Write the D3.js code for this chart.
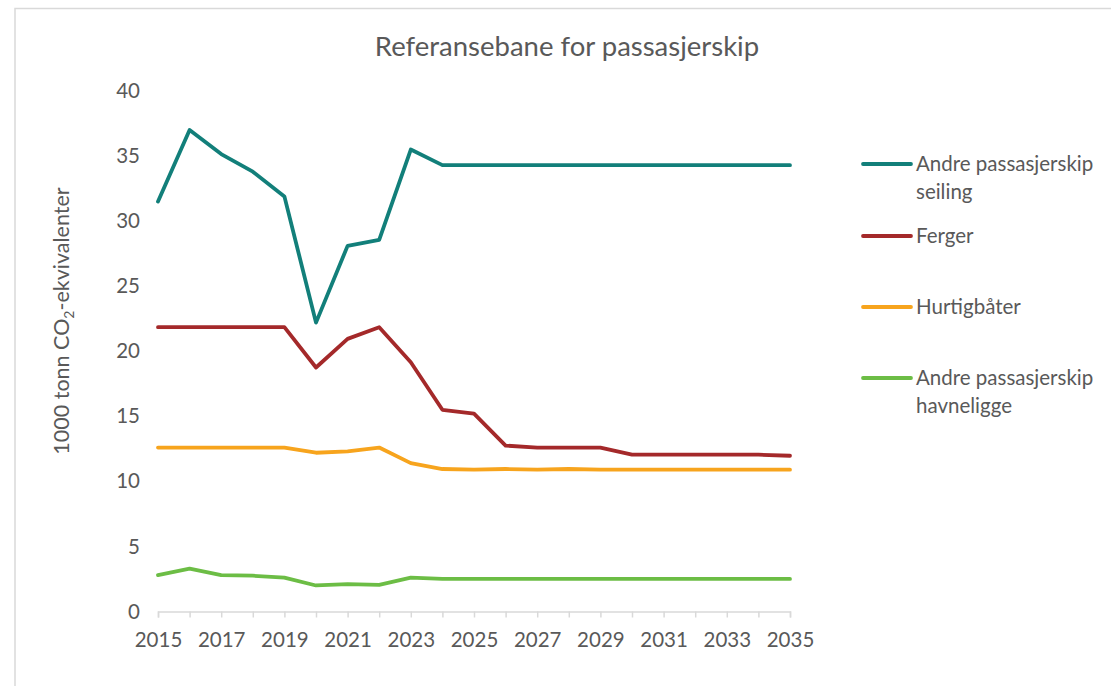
<!DOCTYPE html>
<html>
<head>
<meta charset="utf-8">
<script src="https://cdn.jsdelivr.net/npm/d3@7"></script>
<style>
  html, body { margin: 0; padding: 0; background: #fff; }
  svg { display: block; font-family: Lato, "Open Sans", sans-serif; }
</style>
</head>
<body>
<svg id="chart" width="1111" height="686"></svg>
<script>
// Years on the x axis
const years = d3.range(2015, 2036);
// Tick labels shown on the axes
const xTickLabels = [2015, 2017, 2019, 2021, 2023, 2025, 2027, 2029, 2031, 2033, 2035];
const yTickLabels = [0, 5, 10, 15, 20, 25, 30, 35, 40];

// Emissions, 1000 tonn CO2-ekvivalenter
const andreSeiling = [31.5, 37.0, 35.15, 33.8, 31.9, 22.2, 28.1, 28.55, 35.5, 34.3, 34.3, 34.3, 34.3, 34.3, 34.3, 34.3, 34.3, 34.3, 34.3, 34.3, 34.3];
const ferger = [21.85, 21.85, 21.85, 21.85, 21.85, 18.75, 20.95, 21.85, 19.15, 15.5, 15.2, 12.75, 12.6, 12.6, 12.6, 12.05, 12.05, 12.05, 12.05, 12.05, 11.97];
const hurtigbater = [12.6, 12.6, 12.6, 12.6, 12.6, 12.2, 12.3, 12.6, 11.4, 10.95, 10.9, 10.95, 10.9, 10.95, 10.9, 10.9, 10.9, 10.9, 10.9, 10.9, 10.9];
const andreHavneligge = [2.8, 3.3, 2.8, 2.75, 2.6, 2.0, 2.1, 2.05, 2.6, 2.5, 2.5, 2.5, 2.5, 2.5, 2.5, 2.5, 2.5, 2.5, 2.5, 2.5, 2.5];

const seriesNames = [["Andre passasjerskip", "seiling"], ["Ferger"], ["Hurtigbåter"], ["Andre passasjerskip", "havneligge"]];
const seriesColors = ["#127f7a", "#a4292a", "#f7a41d", "#6cbd45"];
const seriesValues = [andreSeiling, ferger, hurtigbater, andreHavneligge];

const series = seriesValues.map((vals, i) => ({
  name: seriesNames[i],
  color: seriesColors[i],
  points: years.map((y, j) => ({ year: y, value: vals[j] }))
}));

const svg = d3.select("#chart");

// Outer frame (top and left edges)
svg.append("path")
  .attr("d", "M15,686 V8.5 H1111")
  .attr("fill", "none")
  .attr("stroke", "#d9d9d9")
  .attr("stroke-width", 1.5);

const x = d3.scaleLinear().domain([2015, 2035]).range([158, 790]);
const y = d3.scaleLinear().domain([0, 40]).range([611.5, 91]);

// Title
svg.append("text")
  .attr("x", 567).attr("y", 56)
  .attr("text-anchor", "middle")
  .attr("font-size", 27.5)
  .attr("fill", "#595959")
  .text("Referansebane for passasjerskip");

// X axis
const xAxis = d3.axisBottom(x)
  .tickValues(years)
  .tickSize(6)
  .tickFormat(d => xTickLabels.includes(d) ? String(d) : "");
const gx = svg.append("g").attr("transform", `translate(0,${y(0)})`).call(xAxis);
gx.select(".domain").attr("stroke", "#d9d9d9").attr("stroke-width", 1.5);
gx.selectAll(".tick line").attr("stroke", "#d9d9d9").attr("stroke-width", 1.5);
gx.selectAll(".tick text")
  .attr("fill", "#595959")
  .attr("font-size", 20.5)
  .attr("font-family", "Lato, sans-serif")
  .attr("y", 21)
  .attr("dy", "0.71em");

// Y axis (labels only)
const yAxis = d3.axisLeft(y).tickValues(yTickLabels).tickSize(0).tickFormat(d3.format("d"));
const gy = svg.append("g").attr("transform", "translate(140,0)").call(yAxis);
gy.select(".domain").remove();
gy.selectAll(".tick text")
  .attr("fill", "#595959")
  .attr("font-size", 20.5)
  .attr("font-family", "Lato, sans-serif")
  .attr("x", 0);

// Y axis title
const yTitle = svg.append("text")
  .attr("transform", "translate(69,321) rotate(-90)")
  .attr("text-anchor", "middle")
  .attr("font-size", 21.5)
  .attr("fill", "#595959");
yTitle.append("tspan").text("1000 tonn CO");
yTitle.append("tspan").attr("font-size", 14).attr("dy", 5).text("2");
yTitle.append("tspan").attr("dy", -5).text("-ekvivalenter");

// Lines
const line = d3.line().x(d => x(d.year)).y(d => y(d.value));
svg.append("g").selectAll("path")
  .data(series)
  .join("path")
  .attr("d", d => line(d.points))
  .attr("fill", "none")
  .attr("stroke", d => d.color)
  .attr("stroke-width", 3.8)
  .attr("stroke-linejoin", "round")
  .attr("stroke-linecap", "round");

// Legend
const legendY = [164, 236, 307, 378];
const legend = svg.append("g").selectAll("g")
  .data(series)
  .join("g")
  .attr("transform", (d, i) => `translate(0,${legendY[i]})`);
legend.append("line")
  .attr("x1", 863).attr("x2", 911)
  .attr("stroke", d => d.color)
  .attr("stroke-width", 3.8)
  .attr("stroke-linecap", "round");
legend.append("text")
  .attr("x", 916)
  .attr("font-size", 20.5)
  .attr("fill", "#595959")
  .selectAll("tspan")
  .data(d => d.name)
  .join("tspan")
  .attr("x", 916)
  .attr("y", (d, i) => 7 + i * 28)
  .text(d => d);
</script>
</body>
</html>
